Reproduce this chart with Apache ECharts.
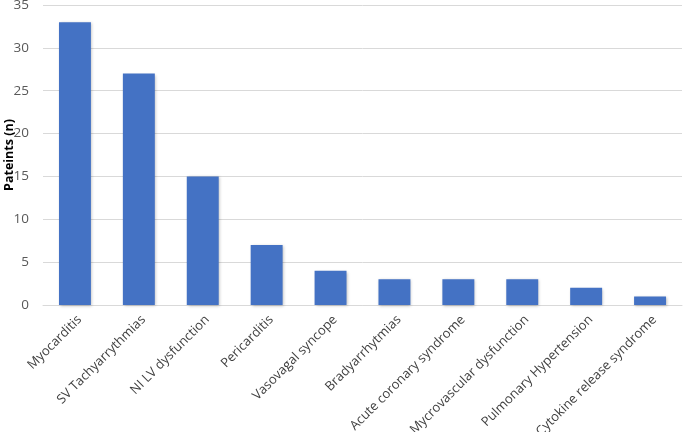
<!DOCTYPE html>
<html>
<head>
<meta charset="utf-8">
<script src="https://cdn.jsdelivr.net/npm/echarts@6/dist/echarts.min.js"></script>
<style>html,body{margin:0;padding:0;background:#fff}#c{width:685px;height:432px}</style>
</head>
<body>
<div id="c"></div>
<script>
const categories = ["Myocarditis","SV Tachyarrythmias","NI LV dysfunction","Pericarditis","Vasovagal syncope","Bradyarrhytmias","Acute coronary syndrome","Mycrovascular dysfunction","Pulmonary Hypertension","Cytokine release syndrome"];
const patients = [33, 27, 15, 7, 4, 3, 3, 3, 2, 1];
const yTicks = {min: 0, max: 35, interval: 5};
const yName = "Pateints (n)";

const chart = echarts.init(document.getElementById('c'));
chart.setOption({
  animation: false,
  textStyle: {fontFamily: '"Open Sans", Lato, sans-serif'},
  grid: {left: 43, right: 3, top: 5, bottom: 127, containLabel: false, outerBoundsMode: 'none'},
  xAxis: {
    type: 'category',
    data: categories,
    axisLine: {lineStyle: {color: '#d9d9d9', width: 1}},
    axisTick: {show: false},
    axisLabel: {rotate: 45, color: '#404040', fontSize: 13, margin: 8, interval: 0, verticalAlign: 'top'}
  },
  yAxis: {
    type: 'value',
    min: yTicks.min, max: yTicks.max, interval: yTicks.interval,
    name: yName,
    nameLocation: 'middle',
    nameGap: 27,
    nameMoveOverlap: false,
    nameTextStyle: {color: '#000', fontSize: 12.5, fontWeight: 'bold', padding: [0, 0, 0, 0]},
    axisLine: {show: false},
    axisTick: {show: false},
    axisLabel: {color: '#595959', fontSize: 13.5, margin: 14},
    splitLine: {lineStyle: {color: '#d9d9d9', width: 1}}
  },
  series: [{
    type: 'bar',
    data: patients,
    barWidth: '50%',
    itemStyle: {color: '#4472C4', shadowColor: 'rgba(0,0,0,0.25)', shadowBlur: 3, shadowOffsetX: 1, shadowOffsetY: 1}
  }]
});
</script>
</body>
</html>
